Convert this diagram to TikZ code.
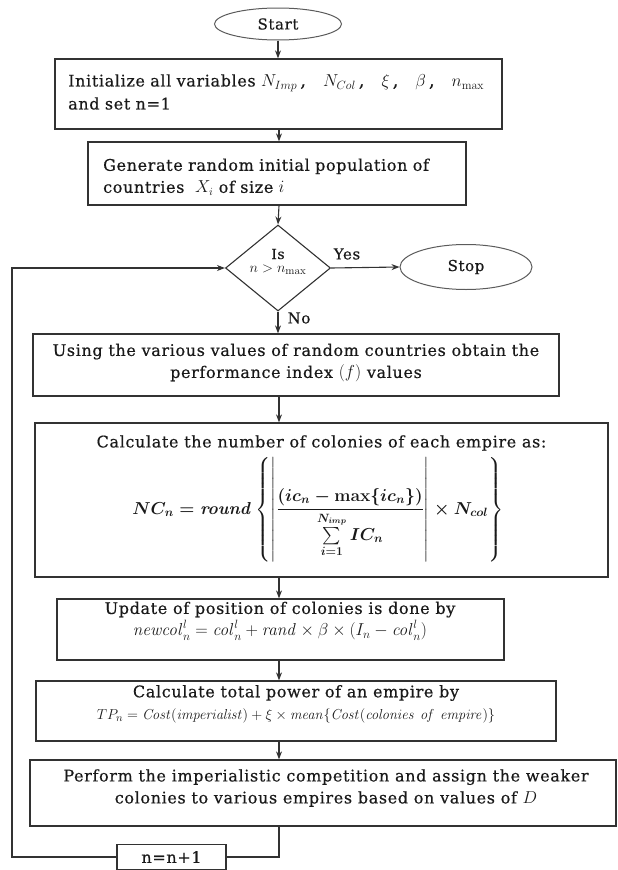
\documentclass[tikz,border=0pt]{standalone}
\usepackage{amsmath}
\usepackage[no-math]{fontspec}
\setmainfont{DejaVu Serif}[LetterSpace=4,FakeBold=0.5]
\usetikzlibrary{shapes.geometric,arrows.meta}
\definecolor{lc}{RGB}{50,50,50}
\definecolor{tc}{RGB}{25,25,25}
\begin{document}
\begin{tikzpicture}[x=1pt,y=-1pt,
  box/.style={draw=lc,line width=1.3pt,inner sep=0pt},
  oval/.style={draw=lc!80,ellipse,line width=1pt,inner sep=0pt,text=tc,font=\fontsize{15}{19}\selectfont},
  txt/.style={text=tc,inner sep=0pt,font=\fontsize{16}{22}\selectfont},
  bigf/.style={text=tc,inner sep=0pt,font=\fontsize{17}{20}\selectfont\mathversion{bold}},
  arr/.style={draw=lc,line width=1.1pt,-{Stealth[length=8pt,width=6pt]}},
  ln/.style={draw=lc,line width=1.1pt}]
\useasboundingbox (0,0) rectangle (618,870);
\coordinate (ax) at (279,0);
% nodes
\node[oval,minimum width=127pt,minimum height=32pt] (start) at (278,24) {Start};
\node[box,minimum width=447pt,minimum height=70pt] (init) at (278.5,94) {};
\node[txt,anchor=west,text width=430pt,align=left] (initt) at (68,92)
  {Initialize all variables {\fontsize{18}{22}\selectfont$N_{Imp}$\,,\hspace{17pt}$N_{Col}$\,,\hspace{17pt}$\xi$\,,\hspace{17pt}$\beta$\,,\hspace{17pt}$n_{\max}$}\\[1pt] and set n=1};
\node[box,minimum width=378pt,minimum height=63pt] (gen) at (277,173.5) {};
\node[txt,anchor=west,text width=356pt,align=left] (gent) at (103,177)
  {\makebox[352pt][s]{Generate random initial population of}\\ countries \ $X_i$ of size $i$};
\node[box,diamond,minimum width=105pt,minimum height=86pt,line width=1.1pt] (dia) at (278,268) {};
\node[txt,font=\fontsize{14}{16}\selectfont] (ist) at (278,254) {Is};
\node[txt,font=\fontsize{15}{17}\selectfont] (ncond) at (278,270) {$n > n_{\max}$};
\node[oval,minimum width=132pt,minimum height=45pt] (stop) at (466,267) {Stop};
\node[txt,font=\fontsize{15}{18}\selectfont] (yes) at (347,254) {Yes};
\node[txt,font=\fontsize{15}{18}\selectfont] (no) at (299,318) {No};
\node[box,minimum width=526pt,minimum height=62pt] (use) at (296,365) {};
\node[txt,align=center] (uset) at (296,363)
  {Using the various values of random countries obtain the\\ performance index $(f)$ values};
\node[box,minimum width=573pt,minimum height=154pt] (calc) at (321.5,500) {};
\node[txt] (calct) at (321.5,443) {Calculate the number of colonies of each empire as:};
\node[bigf] (calcf) at (318,510)
  {$\displaystyle NC_n = \mathit{round}\left\{\left|\rule[-48pt]{0pt}{98pt}\frac{(ic_n-\max\{ic_n\})}{\sum\limits_{i=1}^{N_{imp}} IC_n}\right|\times N_{col}\right\}$};
\node[box,minimum width=447pt,minimum height=61pt] (upd) at (280.5,629.5) {};
\node[txt,align=center] (updt) at (280,621)
  {Update of position of colonies is done by\\
   {\fontsize{16.5}{18}\selectfont $\mathit{newcol}_n^l = \mathit{col}_n^l + \mathit{rand}\times\beta\times(I_n - \mathit{col}_n^l)$}};
\node[box,minimum width=520pt,minimum height=60pt] (pow) at (296,711) {};
\node[txt,align=center] (powt) at (296,704)
  {Calculate total power of an empire by\\
   {\fontsize{15.3}{18}\selectfont $TP_n = \mathit{Cost}(\mathit{imperialist}) + \xi\times \mathit{mean}\{\mathit{Cost}(\mathit{colonies\ of\ empire})\}$}};
\node[box,minimum width=586pt,minimum height=66pt] (perf) at (323,793) {};
\node[txt,align=center] (perft) at (326,788)
  {Perform the imperialistic competition and assign the weaker\\ colonies to various empires based on values of $D$};
\node[box,txt,draw=lc,minimum width=109pt,minimum height=25pt] (nn) at (171.5,857) {n=n+1};
\coordinate (lb) at (12,857);
\coordinate (lt) at (12,268);
% connectors
\draw[arr] (start.south) -- (init.north -| start.south);
\draw[arr] (init.south -| ax) -- (gen.north -| ax);
\draw[arr] (gen.south -| ax) -- (dia.north);
\draw[arr] (dia.south) -- (use.north -| dia.south);
\draw[arr] (use.south -| ax) -- (calc.north -| ax);
\draw[arr] (calc.south -| ax) -- (upd.north -| ax);
\draw[arr] (upd.south -| ax) -- (pow.north -| ax);
\draw[arr] (pow.south -| ax) -- (perf.north -| ax);
\draw[ln] (perf.south -| ax) |- (nn.east);
\draw[arr] (nn.west) -- (lb) -- (lt) -- (dia.west);
\draw[arr] (dia.east) -- (stop.west);
\end{tikzpicture}
\end{document}
